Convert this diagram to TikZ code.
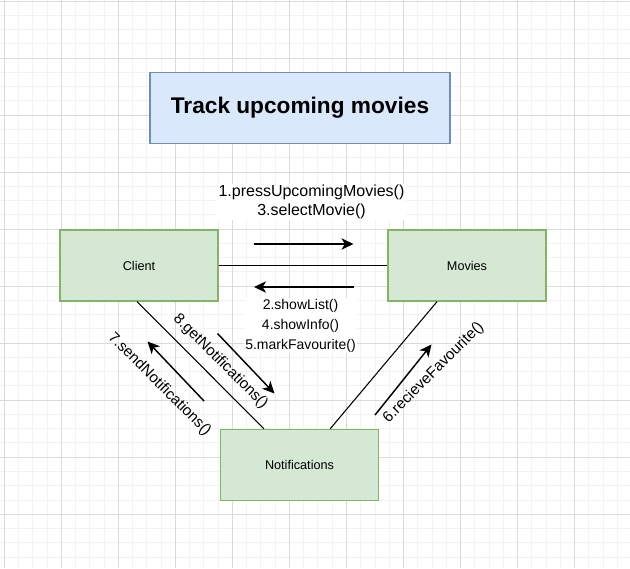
\documentclass[tikz,border=0pt]{standalone}
\usepackage{fontspec}
\setmainfont{Liberation Sans}
\usetikzlibrary{arrows.meta}

\definecolor{gridmajor}{HTML}{DADADA}
\definecolor{gridminor}{HTML}{F2F2F2}
\definecolor{greenfill}{HTML}{D5E8D4}
\definecolor{greenline}{HTML}{82B366}
\definecolor{bluefill}{HTML}{DAE8FC}
\definecolor{blueline}{HTML}{6C8EBF}

\tikzset{
  objbox/.style={draw=greenline, fill=greenfill, line width=1pt,
    minimum width=118.5pt, minimum height=53.25pt, text=black,
    font=\fontsize{9.5}{11}\selectfont},
  titlebox/.style={draw=blueline, fill=bluefill, line width=1pt,
    minimum width=225pt, minimum height=53.25pt,
    font=\fontsize{17}{19}\selectfont\bfseries},
  link/.style={line width=0.8pt},
  msgarrow/.style={line width=1.1pt, -{Stealth[length=9pt, width=8.5pt, inset=2.5pt]}},
  msgtop/.style={fill=white, inner sep=1pt, align=center,
    font=\fontsize{12}{14.5}\selectfont},
  msgbot/.style={fill=white, inner sep=1pt, align=center,
    font=\fontsize{10.5}{15}\selectfont},
  msgdiag/.style={inner sep=1pt, font=\fontsize{11.4}{13}\selectfont}
}

\begin{document}
\begin{tikzpicture}[x=0.75pt, y=-0.75pt]
\fill[white] (0,0) rectangle (630,568);
\useasboundingbox (0,0) rectangle (630,568);

% grid
\foreach \i in {-1,...,44}
  \draw[gridminor, line width=0.75pt] ({4.3+\i*14.2575},0) -- ({4.3+\i*14.2575},568);
\foreach \j in {0,...,40}
  \draw[gridminor, line width=0.75pt] (0,{1+\j*14.2575}) -- (630,{1+\j*14.2575});
\foreach \i in {0,...,11}
  \draw[gridmajor, line width=0.75pt] ({4.3+\i*57.03},0) -- ({4.3+\i*57.03},568);
\foreach \j in {0,...,9}
  \draw[gridmajor, line width=0.75pt] (0,{1+\j*57.03}) -- (630,{1+\j*57.03});

% title
\node[titlebox] (title) at (300,107.75) {Track upcoming movies};

% objects
\node[objbox] (client) at (139,265.5) {Client};
\node[objbox] (movies) at (467,265.5) {Movies};
\node[objbox] (notif) at (299.5,465) {Notifications};

% links
\draw[link] (client) -- (movies);
\draw[link] ([xshift=-1.5pt]client.south) -- ([xshift=-26.6pt]notif.north);
\draw[link] ([xshift=-22.5pt]movies.south) -- ([xshift=23pt]notif.north);

% message arrows
\coordinate (m1s) at (253.5,244);
\coordinate (m1e) at (353.5,244);
\coordinate (m2s) at (353.5,287);
\coordinate (m2e) at (254,287);
\coordinate (m8s) at (217.5,333.5);
\coordinate (m8e) at (274.5,393.5);
\coordinate (m7s) at (204,401);
\coordinate (m7e) at (147.5,341.5);
\coordinate (m6s) at (375,415);
\coordinate (m6e) at (431.5,344.5);
\draw[msgarrow] (m1s) -- (m1e);
\draw[msgarrow] (m2s) -- (m2e);
\draw[msgarrow] (m8s) -- (m8e);
\draw[msgarrow] (m7s) -- (m7e);
\draw[msgarrow] (m6s) -- (m6e);

% message labels
\node[msgtop] (lblfwd) at (311.5,202) {1.pressUpcomingMovies()\\3.selectMovie()};
\node[msgbot] (lblback) at (300.5,325.5) {2.showList()\\4.showInfo()\\5.markFavourite()};
\node[msgdiag, rotate=-45] (lblget) at (220.5,361.5) {8.getNotifications()};
\node[msgdiag, rotate=-45] (lblsend) at (159.5,384.5) {7.sendNotifications()};
\node[msgdiag, rotate=45] (lblfav) at (433.7,372.5) {6.recieveFavourite()};
\end{tikzpicture}
\end{document}
